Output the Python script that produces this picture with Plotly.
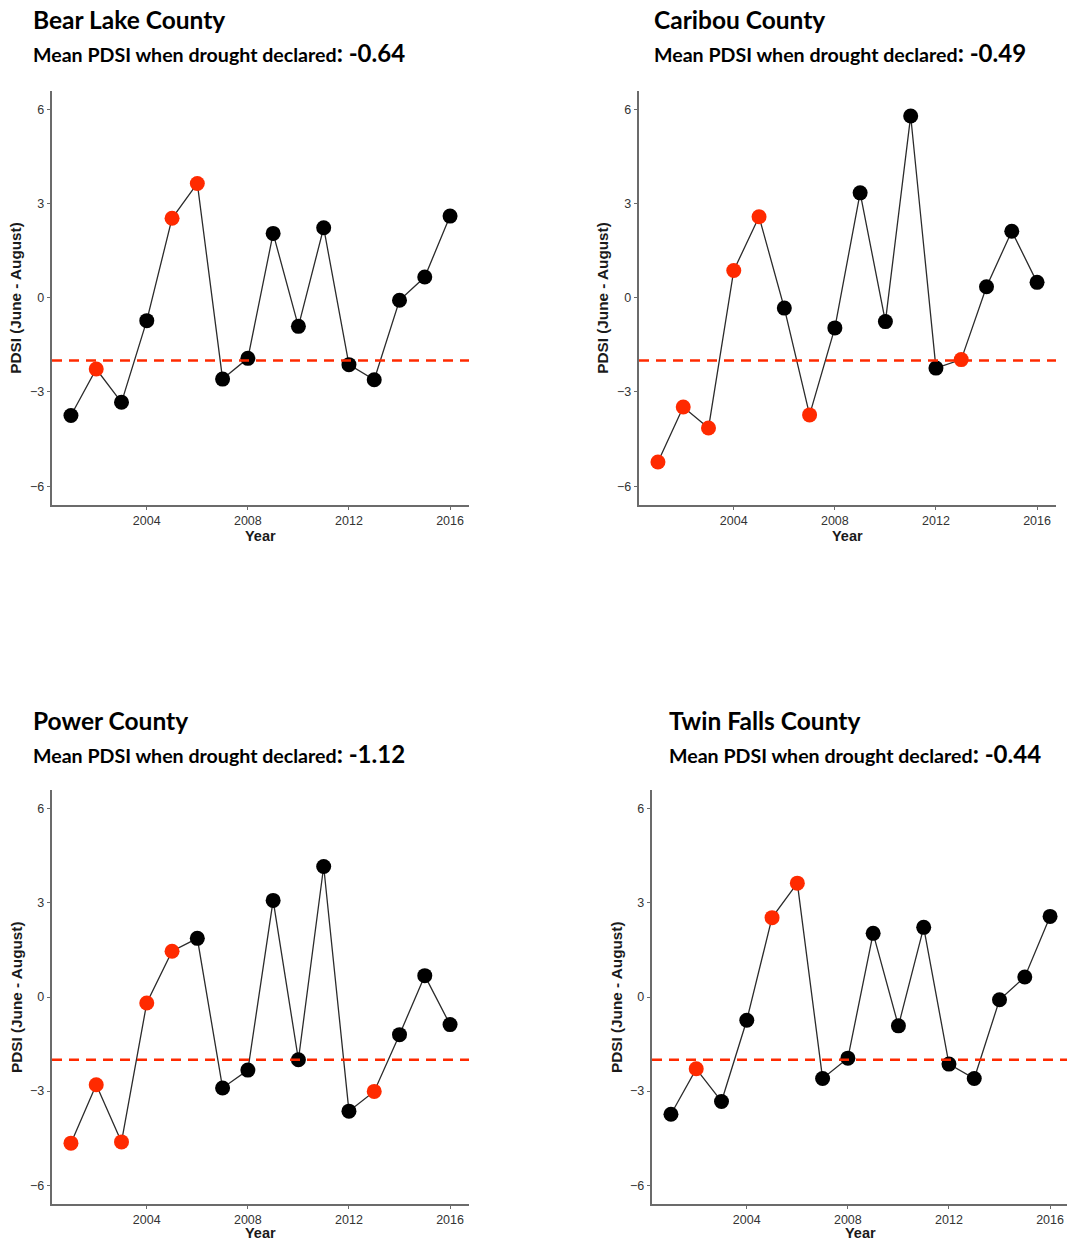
import plotly.graph_objects as go

years = list(range(2001, 2017))

counties = ["Bear Lake County", "Caribou County", "Power County", "Twin Falls County"]
mean_pdsi = ["-0.64", "-0.49", "-1.12", "-0.44"]

bear_lake_pdsi = [-3.75, -2.27, -3.33, -0.73, 2.53, 3.64, -2.59, -1.93, 2.05, -0.91, 2.23, -2.13, -2.61, -0.08, 0.66, 2.60]
bear_lake_declared = [0, 1, 0, 0, 1, 1, 0, 0, 0, 0, 0, 0, 0, 0, 0, 0]

caribou_pdsi = [-5.23, -3.48, -4.15, 0.87, 2.58, -0.33, -3.73, -0.96, 3.34, -0.76, 5.79, -2.24, -1.97, 0.35, 2.12, 0.49]
caribou_declared = [1, 1, 1, 1, 1, 0, 1, 0, 0, 0, 0, 0, 1, 0, 0, 0]

power_pdsi = [-4.66, -2.80, -4.62, -0.19, 1.46, 1.87, -2.90, -2.33, 3.08, -2.00, 4.16, -3.64, -3.01, -1.20, 0.68, -0.88]
power_declared = [1, 1, 1, 1, 1, 0, 0, 0, 0, 0, 0, 0, 1, 0, 0, 0]

twin_falls_pdsi = [-3.74, -2.29, -3.33, -0.74, 2.53, 3.63, -2.60, -1.95, 2.03, -0.92, 2.22, -2.14, -2.60, -0.09, 0.64, 2.57]
twin_falls_declared = [0, 1, 0, 0, 1, 1, 0, 0, 0, 0, 0, 0, 0, 0, 0, 0]

drought_threshold = -2
y_ticks = [-6, -3, 0, 3, 6]
x_ticks = [2004, 2008, 2012, 2016]

series = [
    (bear_lake_pdsi, bear_lake_declared),
    (caribou_pdsi, caribou_declared),
    (power_pdsi, power_declared),
    (twin_falls_pdsi, twin_falls_declared),
]

W, H = 1067, 1240
# panel pixel boxes: (left, right, top, bottom)
boxes = [(52, 469, 90.5, 505), (639, 1056, 90.5, 505), (52, 469, 790, 1204), (652, 1067, 790, 1204)]
xranges = [[2000.25, 2016.75], [2000.25, 2016.75], [2000.25, 2016.75], [2000.25, 2016.67]]
title_x = [31, 652, 31, 667]
title_y = [20, 720]
year_offset = [31, 31, 29, 29]

RED = "#ff2a00"
AXIS = "#6b6b6b"
TITLE_FONT = "Lato, 'Open Sans', sans-serif"
AX_FONT = "'Liberation Sans', Arial, sans-serif"

fig = go.Figure()
annotations = []
shapes = []

for i, ((vals, flags), (l, r, t, b)) in enumerate(zip(series, boxes)):
    n = i + 1
    xa = "x" if n == 1 else f"x{n}"
    ya = "y" if n == 1 else f"y{n}"
    fig.add_trace(go.Scatter(x=years, y=vals, mode="lines",
                             line=dict(color="#2b2b2b", width=1.3),
                             xaxis=xa, yaxis=ya, showlegend=False, hoverinfo="skip"))
    fig.add_trace(go.Scatter(x=years, y=vals, mode="markers",
                             marker=dict(size=15, color=[RED if f else "#000000" for f in flags],
                                         line=dict(width=0)),
                             xaxis=xa, yaxis=ya, showlegend=False))
    axis_common = dict(showgrid=False, zeroline=False, showline=True, linecolor=AXIS, linewidth=1.5,
                       ticks="outside", ticklen=3.5, tickwidth=1.2, tickcolor=AXIS,
                       tickfont=dict(family=AX_FONT, size=12.5, color="#333333"))
    fig.update_layout(**{
        ("xaxis" if n == 1 else f"xaxis{n}"): dict(domain=[l / W, r / W], range=xranges[i],
                                                    tickvals=x_ticks, anchor=ya, **axis_common),
        ("yaxis" if n == 1 else f"yaxis{n}"): dict(domain=[1 - b / H, 1 - t / H], range=[-6.6, 6.6],
                                                    tickvals=y_ticks, anchor=xa, **axis_common),
    })
    shapes.append(dict(type="line", xref=f"{xa} domain", yref=ya, x0=0, x1=1,
                       y0=drought_threshold, y1=drought_threshold,
                       line=dict(color=RED, width=2.6, dash="10px,7px")))
    ty = title_y[0] if i < 2 else title_y[1]
    annotations.append(dict(text=f"<b>{counties[i]}</b>", x=title_x[i] / W, y=1 - ty / H,
                            xref="paper", yref="paper", xanchor="left", yanchor="middle",
                            showarrow=False, font=dict(family=TITLE_FONT, size=24.5, color="#000")))
    annotations.append(dict(text=f"<b>Mean PDSI when drought declared<span style='font-size:24px'>: {mean_pdsi[i]}</span></b>",
                            x=title_x[i] / W, y=1 - (ty + 33) / H,
                            xref="paper", yref="paper", xanchor="left", yanchor="middle",
                            showarrow=False, font=dict(family=TITLE_FONT, size=19.6, color="#000")))
    annotations.append(dict(text="<b>Year</b>", x=(l + (r - l) * (2008.5 - xranges[i][0]) / (xranges[i][1] - xranges[i][0])) / W,
                            y=1 - (b + year_offset[i]) / H, xref="paper", yref="paper",
                            xanchor="center", yanchor="middle", showarrow=False,
                            font=dict(family=AX_FONT, size=14.5, color="#1a1a1a")))
    annotations.append(dict(text="<b>PDSI (June - August)</b>", x=(l - 36) / W, y=1 - ((t + b) / 2) / H,
                            xref="paper", yref="paper", xanchor="center", yanchor="middle",
                            textangle=-90, showarrow=False,
                            font=dict(family=AX_FONT, size=15.3, color="#1a1a1a")))

fig.update_layout(width=W, height=H, margin=dict(l=0, r=0, t=0, b=0),
                  paper_bgcolor="white", plot_bgcolor="white",
                  annotations=annotations, shapes=shapes)

fig.write_html("out.html", config={"displayModeBar": False},
               post_script="document.body.style.margin='0px';document.body.style.overflow='hidden';")
